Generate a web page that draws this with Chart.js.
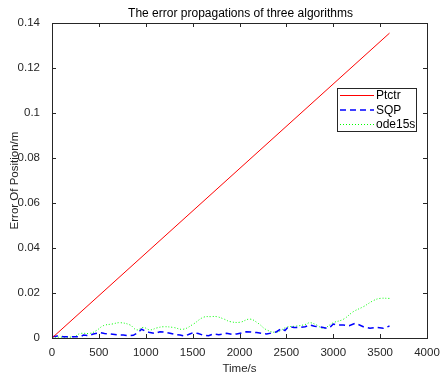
<!DOCTYPE html>
<html>
<head>
<meta charset="utf-8">
<script src="https://cdn.jsdelivr.net/npm/chart.js@4/dist/chart.umd.min.js"></script>
<style>
  html, body { margin: 0; padding: 0; background: #fff; }
  #c { display: block; }
</style>
</head>
<body>
<canvas id="c" width="441" height="377"></canvas>
<script>
// values
const ptctrT = [0, 3600];
const ptctrY = [0, 0.1355];

const sqpT = [0, 60, 120, 180, 240, 300, 335, 390, 441, 512, 560, 619, 690, 761, 820, 867, 920, 956,
  1000, 1045, 1100, 1152, 1200, 1259, 1310, 1365, 1420, 1470, 1508, 1560, 1614, 1670, 1721, 1780, 1863, 1920,
  1970, 2020, 2076, 2130, 2183, 2240, 2290, 2340, 2396, 2450, 2485, 2520, 2580, 2645, 2700, 2752, 2800, 2858,
  2929, 2970, 3001, 3050, 3107, 3170, 3232, 3280, 3321, 3392, 3463, 3534, 3600];
const sqpY = [0.0005, 0.0009, 0.0006, 0.0005, 0.0006, 0.0005, 0.0013, 0.0010, 0.0018, 0.0024, 0.0020, 0.0018,
  0.0014, 0.0013, 0.0010, 0.0012, 0.0025, 0.0039, 0.0030, 0.0024, 0.0020, 0.0028, 0.0026, 0.0021,
  0.0016, 0.0013, 0.0009, 0.0018, 0.0024, 0.0020, 0.0012, 0.0010, 0.0018, 0.0015, 0.0021, 0.0016,
  0.0018, 0.0022, 0.0028, 0.0026, 0.0024, 0.0020, 0.0018, 0.0022, 0.0028, 0.0043, 0.0033, 0.0050,
  0.0047, 0.0047, 0.0050, 0.0058, 0.0052, 0.0050, 0.0043, 0.0050, 0.0062, 0.0058, 0.0058, 0.0055,
  0.0065, 0.0058, 0.0050, 0.0043, 0.0047, 0.0043, 0.0053];

const odeT = [0, 100, 200, 250, 300, 410, 480, 548, 640, 725, 832, 903, 974, 1045, 1120, 1188, 1294, 1400,
  1508, 1614, 1700, 1756, 1830, 1898, 2005, 2112, 2200, 2290, 2396, 2503, 2610, 2700, 2752, 2823, 2894, 3001,
  3107, 3214, 3321, 3427, 3498, 3600];
const odeY = [0.0003, 0.0004, 0.0004, 0.0008, 0.0020, 0.0021, 0.0035, 0.0055, 0.0062, 0.0068, 0.0058, 0.0036,
  0.0047, 0.0036, 0.0045, 0.0050, 0.0047, 0.0039, 0.0062, 0.0092, 0.0095, 0.0095, 0.0085, 0.0073,
  0.0070, 0.0084, 0.0065, 0.0036, 0.0026, 0.0048, 0.0053, 0.0060, 0.0068, 0.0058, 0.0043, 0.0068,
  0.0083, 0.0117, 0.0139, 0.0166, 0.0176, 0.0176];

const seriesNames = ['Ptctr', 'SQP', 'ode15s'];
const chartTitle = 'The error propagations of three algorithms';
const xTitle = 'Time/s';
const yTitle = 'Error Of Position/m';

function pts(t, y) { return t.map((v, i) => ({ x: v, y: y[i] })); }

const FONT = 'Liberation Sans, Arial, Helvetica, sans-serif';
const AXC = '#262626';

// MATLAB-like frame, inward ticks, title and legend inside the axes
const matlabBox = {
  id: 'matlabBox',
  afterDraw(chart) {
    const ctx = chart.ctx, a = chart.chartArea;
    const xs = chart.scales.x, ys = chart.scales.y;
    ctx.save();
    ctx.strokeStyle = AXC;
    ctx.lineWidth = 1;
    ctx.strokeRect(Math.round(a.left) + 0.5, Math.round(a.top) + 0.5,
      Math.round(a.right - a.left), Math.round(a.bottom - a.top));
    ctx.beginPath();
    xs.ticks.forEach(t => {
      const px = Math.round(xs.getPixelForValue(t.value)) + 0.5;
      ctx.moveTo(px, a.bottom); ctx.lineTo(px, a.bottom - 4);
      ctx.moveTo(px, a.top); ctx.lineTo(px, a.top + 4);
    });
    ys.ticks.forEach(t => {
      const py = Math.round(ys.getPixelForValue(t.value)) + 0.5;
      ctx.moveTo(a.left, py); ctx.lineTo(a.left + 4, py);
      ctx.moveTo(a.right, py); ctx.lineTo(a.right - 4, py);
    });
    ctx.stroke();

    // title
    ctx.fillStyle = '#000';
    ctx.font = '12px ' + FONT;
    ctx.textAlign = 'center';
    ctx.textBaseline = 'alphabetic';
    ctx.fillText(chartTitle, (a.left + a.right) / 2 + 1, 17);

    // legend
    const lx = 337, ly = 88, lw = 79, lh = 43;
    ctx.fillStyle = '#fff';
    ctx.fillRect(lx, ly, lw, lh);
    ctx.strokeStyle = AXC;
    ctx.lineWidth = 1;
    ctx.strokeRect(lx + 0.5, ly + 0.5, lw, lh);
    ctx.font = '12px ' + FONT;
    ctx.textAlign = 'left';
    ctx.textBaseline = 'middle';
    chart.data.datasets.forEach((ds, i) => {
      const yy = ly + 7.5 + i * 14.5;
      ctx.beginPath();
      ctx.strokeStyle = ds.borderColor;
      ctx.lineWidth = ds.borderWidth;
      ctx.setLineDash(ds.borderDash || []);
      ctx.moveTo(lx + 3, yy); ctx.lineTo(lx + 37, yy);
      ctx.stroke();
      ctx.setLineDash([]);
      ctx.fillStyle = '#000';
      ctx.fillText(ds.label, lx + 39, yy + 0.5);
    });
    ctx.restore();
  }
};

new Chart(document.getElementById('c'), {
  type: 'line',
  data: {
    datasets: [
      { label: seriesNames[0], data: pts(ptctrT, ptctrY), borderColor: '#ff0000', borderWidth: 1, pointRadius: 0 },
      { label: seriesNames[1], data: pts(sqpT, sqpY), borderColor: '#0000ff', borderWidth: 1.5, borderDash: [6, 4], pointRadius: 0 },
      { label: seriesNames[2], data: pts(odeT, odeY), borderColor: '#00ff00', borderWidth: 1, borderDash: [1, 2], pointRadius: 0, tension: 0.4 }
    ]
  },
  options: {
    responsive: false,
    animation: false,
    layout: { padding: { top: 23, right: 14, left: 0, bottom: 0 } },
    plugins: { legend: { display: false }, title: { display: false }, tooltip: { enabled: false } },
    scales: {
      x: {
        type: 'linear', min: 0, max: 4000,
        ticks: { stepSize: 500, color: AXC, font: { family: FONT, size: 11.5 }, padding: 0, maxRotation: 0,
          callback: v => String(v) },
        grid: { display: false },
        border: { display: false },
        title: { display: true, text: xTitle, color: AXC, font: { family: FONT, size: 11.5 }, padding: { top: 1, bottom: 1 } },
        afterFit(s) { s.height = 39; }
      },
      y: {
        type: 'linear', min: 0, max: 0.14,
        ticks: { stepSize: 0.02, color: AXC, font: { family: FONT, size: 11.5 }, padding: 4,
          callback: v => String(+v.toFixed(2)) },
        grid: { display: false },
        border: { display: false },
        title: { display: true, text: yTitle, color: AXC, font: { family: FONT, size: 11.5 }, padding: { top: 8, bottom: 2 } },
        afterFit(s) { s.width = 52; }
      }
    }
  },
  plugins: [matlabBox]
});
</script>
</body>
</html>
